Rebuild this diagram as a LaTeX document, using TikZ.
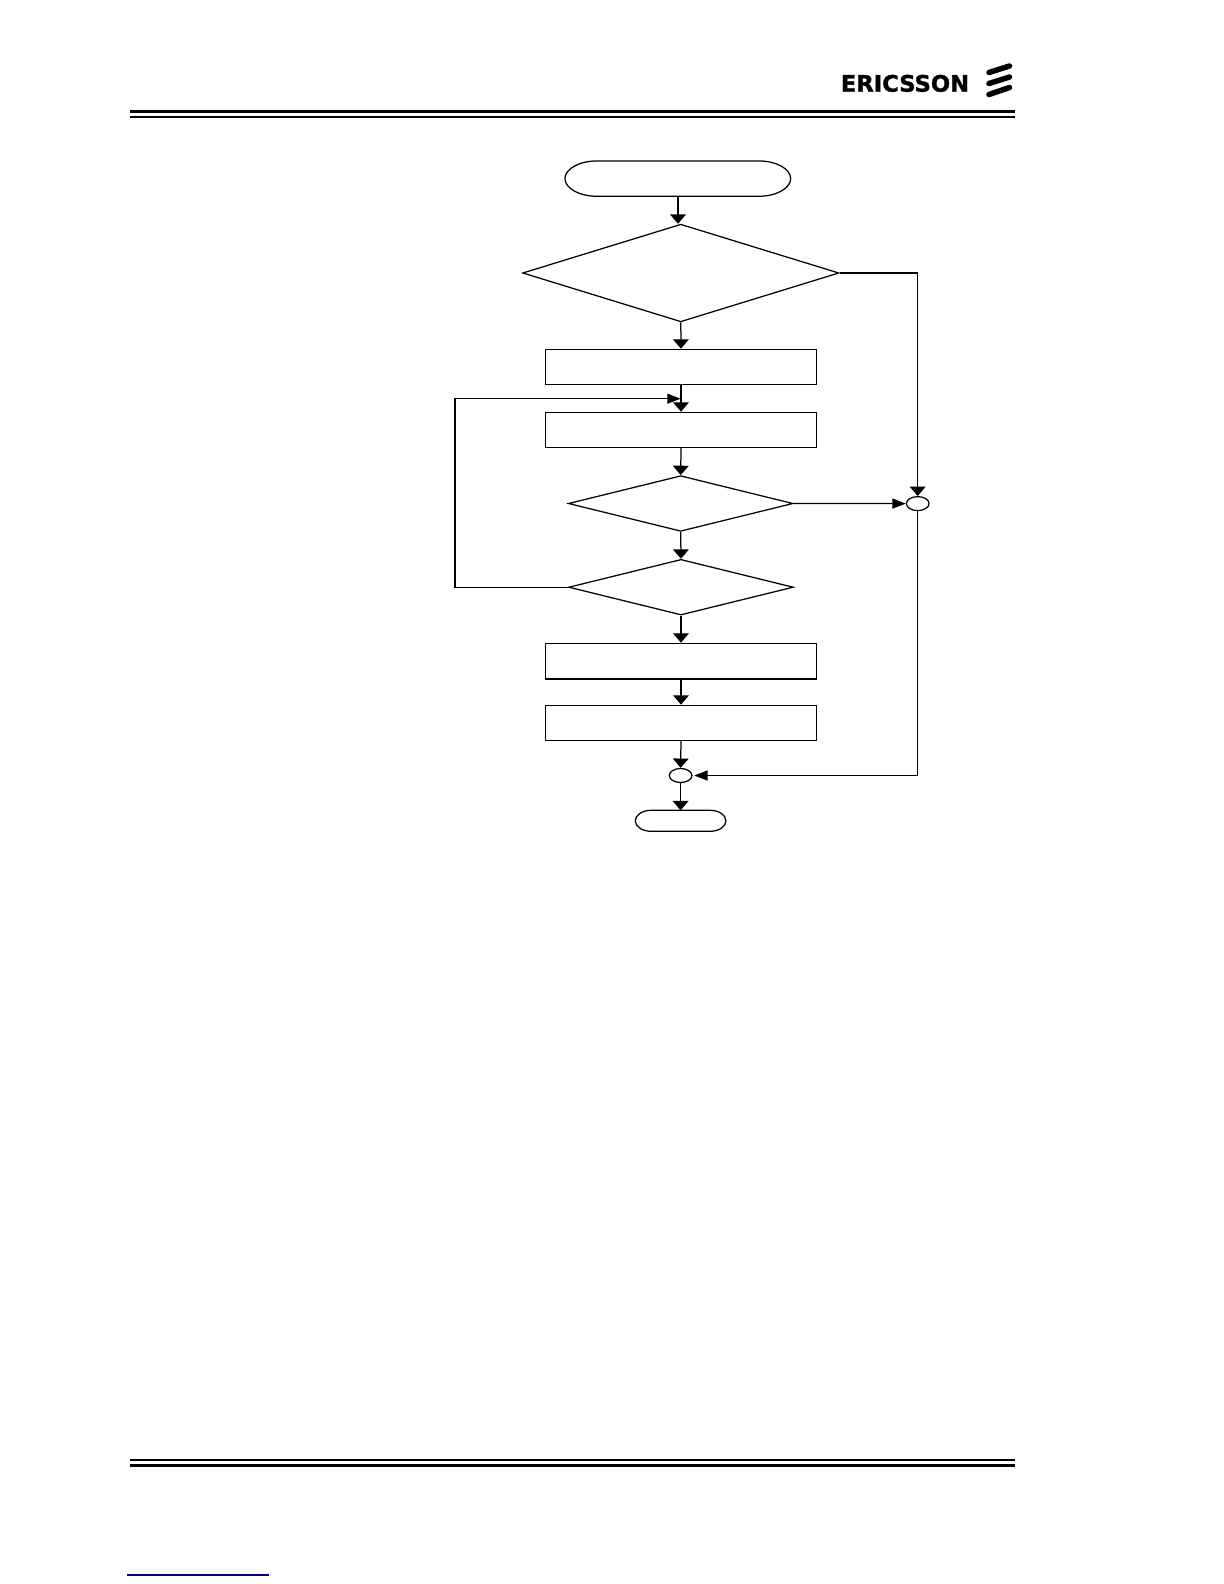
\documentclass[tikz,border=0pt]{standalone}
\usepackage{fontspec}
\setmainfont{Liberation Sans}
\newfontfamily\brandfont[BoldFeatures={FakeBold=1.3}]{DejaVu Sans}
\usetikzlibrary{arrows.meta,shapes.geometric}
\tikzset{
  x=0.6pt,y=-0.6pt,
  box/.style={draw,line width=0.75pt,minimum width=163pt,minimum height=21pt,inner sep=0pt},
  term/.style={inner sep=0pt,outer sep=0pt},
  joint/.style={draw,ellipse,line width=0.75pt,inner sep=0pt,minimum width=13.6pt,minimum height=8.4pt},
  flowv/.style={line width=0.75pt,-{Triangle[length=5.6pt,width=9.4pt]}},
  flowh/.style={line width=0.75pt,-{Triangle[length=8pt,width=6pt]}},
  plain/.style={line width=0.75pt},
  rulethick/.style={line width=1.9pt},
  rulethin/.style={line width=1.3pt},
  stripe/.style={line width=3.3pt,line cap=round},
}
\newcommand{\termoutline}[3]{%
  \draw[plain] ([xshift=#2]#1.north west) -- ([xshift=-#2]#1.north east)
    arc[start angle=90,end angle=-90,x radius=#2,y radius=#3]
    -- ([xshift=#2]#1.south west)
    arc[start angle=270,end angle=90,x radius=#2,y radius=#3] -- cycle;}
\begin{document}
\begin{tikzpicture}
\useasboundingbox (0,0) rectangle (1224,1584);
\fill[white] (0,0) rectangle (1224,1584);
% rules
\draw[rulethick] (130,111.7) -- (1015,111.7);
\draw[rulethin] (130,116.8) -- (1015,116.8);
\draw[rulethin] (130,1460) -- (1015,1460);
\draw[rulethick] (130,1465.2) -- (1015,1465.2);
\draw[line width=0.8pt,color=blue!55!black] (127,1575) -- (269,1575);
% logo
\node[inner sep=0pt] (brand) at (905,83.4) {\brandfont\bfseries\fontsize{13.6pt}{14pt}\selectfont ERICSSON};
\draw[stripe] (989,72.5) -- (1009.5,66);
\draw[stripe] (989,83.5) -- (1009.5,77);
\draw[stripe] (989,94.5) -- (1009.5,87.5);
% nodes
\node[term,minimum width=135.4pt,minimum height=21.2pt] (start) at (677.8,178.6) {};
\termoutline{start}{19.2pt}{10.6pt}
\node[draw,line width=0.75pt,diamond,inner sep=0pt,
      shape aspect=1.62,minimum height=58.6pt,minimum width=189.8pt] (d1) at (680.8,273) {};
\node[box] (r1) at (681,366.8) {};
\node[box] (r2) at (681,429.8) {};
\node[draw,line width=0.75pt,diamond,inner sep=0pt,shape aspect=2.02,minimum width=134.8pt,minimum height=33.4pt] (d2) at (680.7,503.5) {};
\node[draw,line width=0.75pt,diamond,inner sep=0pt,shape aspect=2.02,minimum width=134.8pt,minimum height=33.4pt] (d3) at (681,587.2) {};
\node[box] (r3) at (681,660.8) {};
\node[box] (r4) at (681,722.8) {};
\node[joint] (j1) at (917.7,503.6) {};
\node[joint] (j2) at (680.6,775.5) {};
\node[term,minimum width=54.4pt,minimum height=12.6pt] (finish) at (680.6,820.8) {};
\termoutline{finish}{9.5pt}{6.3pt}
\coordinate (loopin) at (680.6,398.7);
\coordinate (loopleft) at (455,398.7);
\coordinate (corner1) at (917.7,273);
\coordinate (corner2) at (917.7,775.5);
\coordinate (corner3) at (455,587.2);
% connectors
\draw[flowv] (start.south -| 678,0) -- (678,223.8);
\draw[flowv] (d1.south) -- (r1.north);
\draw[flowv] (r1.south) -- (r2.north);
\draw[flowv] (r2.south) -- (d2.north);
\draw[flowv] (d2.south) -- (d3.north);
\draw[flowv] (d3.south) -- (r3.north);
\draw[flowv] (r3.south) -- (r4.north);
\draw[flowv] (r4.south) -- (j2.north);
\draw[flowv] (j2.south) -- (finish.north);
\draw[flowv] (d1.east) -- (corner1) -- (j1.north);
\draw[flowh] (d2.east) -- (j1.west);
\draw[flowh] (j1.south) -- (corner2) -- ([xshift=1pt]j2.east);
\draw[flowh] (d3.west) -- (corner3) -- (loopleft) -- (loopin);
\draw[line width=1.3pt] (r3.south west) -- (r3.south east);
\end{tikzpicture}
\end{document}
